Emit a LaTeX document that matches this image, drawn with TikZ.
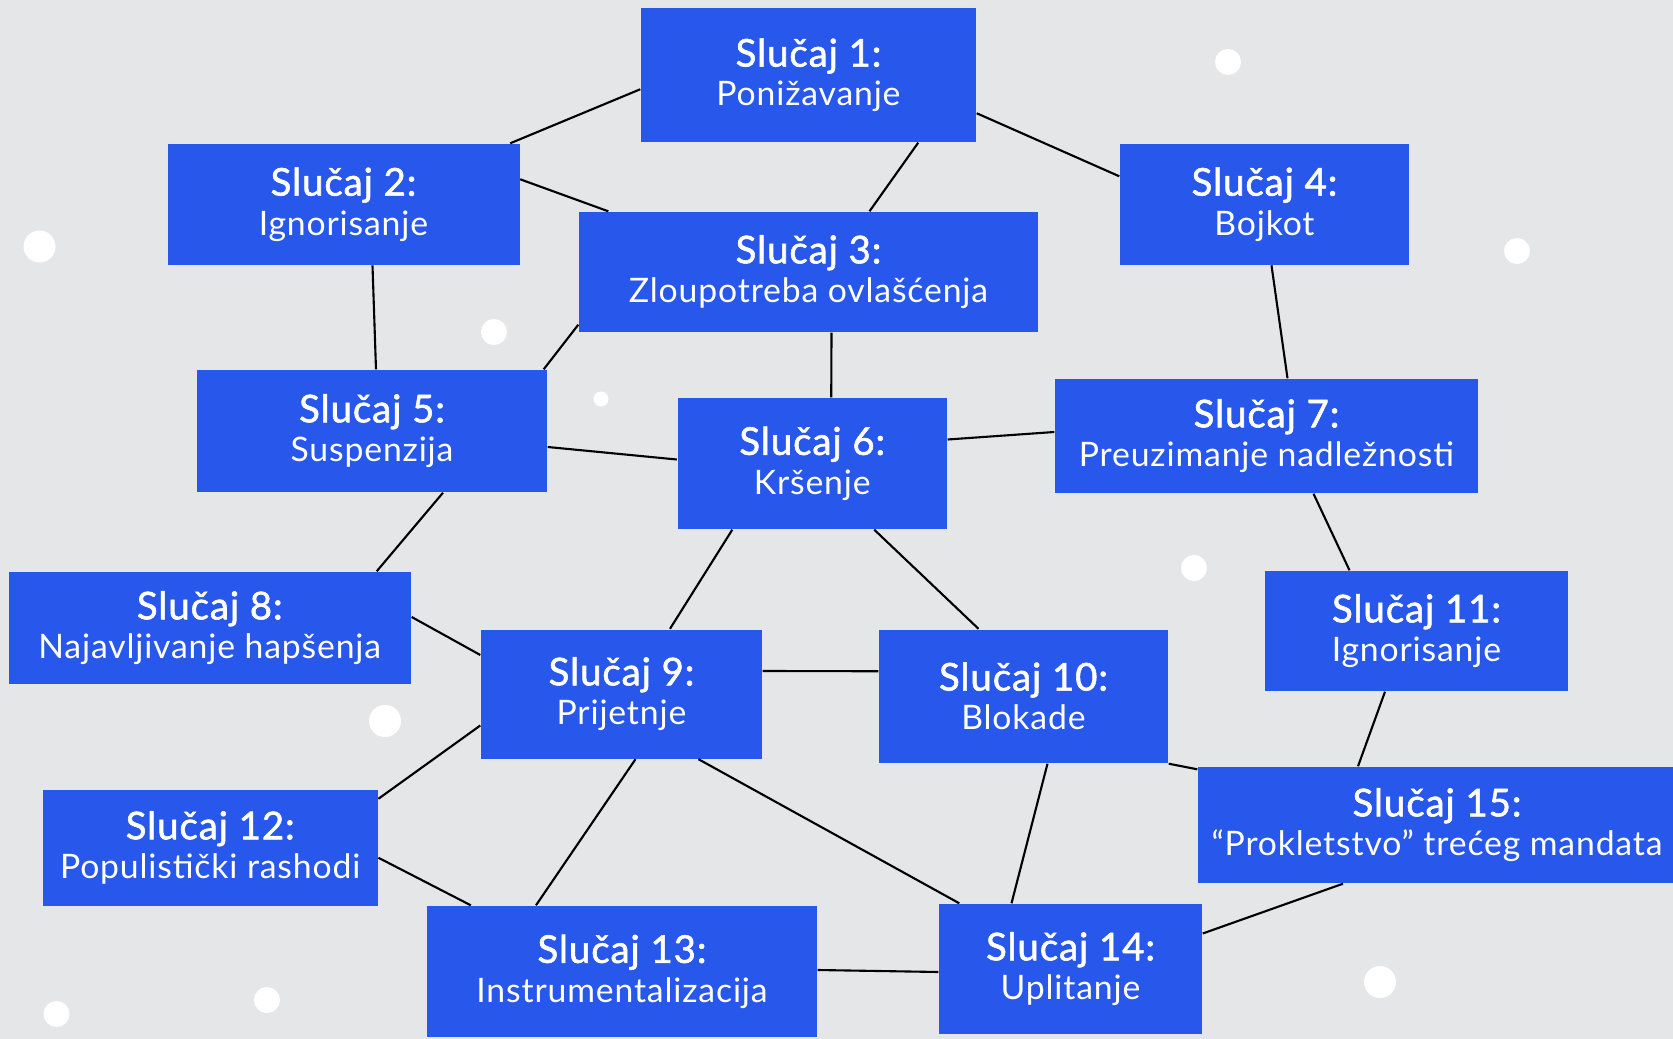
\documentclass[tikz,border=0pt]{standalone}
\usepackage{fontspec}
\setmainfont{Lato}[LetterSpace=2.5]
\newfontfamily\titlefont{Lato}[FakeBold=1.5, LetterSpace=2.5]
\usetikzlibrary{calc}
\definecolor{caseblue}{HTML}{2757EB}
\definecolor{paper}{HTML}{E5E6E8}
\newcommand{\ttl}[1]{{\titlefont\fontsize{10.9}{11.2}\selectfont #1}}

\begin{document}
\begin{tikzpicture}[
  every node/.append style={align=center},
  case/.style={fill=caseblue, text=white, inner sep=0pt,
    font=\fontsize{9.6}{11.2}\selectfont},
  link/.style={draw=black, line width=0.6pt},
  dot/.style={fill=white, draw=none}]
 \clip (0,0) rectangle (16.73,-10.39);
 \fill[paper] (0,0) rectangle (16.73,-10.39);
 % background dots
 \foreach \x/\y/\r in {12.28/0.62/0.13, 0.395/2.465/0.16, 15.17/2.51/0.13,
   4.94/3.32/0.13, 6.01/3.99/0.075, 11.94/5.68/0.13, 3.85/7.21/0.16,
   13.80/9.82/0.16, 2.67/10.00/0.13, 0.565/10.14/0.13}
   \fill[dot] (\x,-\y) circle (\r);
 % cases
 \node[case, minimum width=3.35cm, minimum height=1.335cm] (c1) at (8.085,-0.7525) {\ttl{Slučaj 1:}\\Ponižavanje};
 \node[case, minimum width=3.52cm, minimum height=1.206cm] (c2) at (3.435,-2.043) {\ttl{Slučaj 2:}\\Ignorisanje};
 \node[case, minimum width=4.59cm, minimum height=1.20cm] (c3) at (8.085,-2.72) {\ttl{Slučaj 3:}\\Zloupotreba ovlašćenja};
 \node[case, minimum width=2.89cm, minimum height=1.206cm] (c4) at (12.645,-2.043) {\ttl{Slučaj 4:}\\Bojkot};
 \node[case, minimum width=3.50cm, minimum height=1.22cm] (c5) at (3.72,-4.31) {\ttl{Slučaj 5:}\\Suspenzija};
 \node[case, minimum width=2.695cm, minimum height=1.31cm] (c6) at (8.1225,-4.635) {\ttl{Slučaj 6:}\\Kršenje};
 \node[case, minimum width=4.23cm, minimum height=1.14cm] (c7) at (12.665,-4.36) {\ttl{Slučaj 7:}\\Preuzimanje nadležnosti};
 \node[case, minimum width=4.025cm, minimum height=1.12cm] (c8) at (2.0975,-6.28) {\ttl{Slučaj 8:}\\Najavljivanje hapšenja};
 \node[case, minimum width=2.81cm, minimum height=1.29cm] (c9) at (6.215,-6.94) {\ttl{Slučaj 9:}\\Prijetnje};
 \node[case, minimum width=2.89cm, minimum height=1.335cm] (c10) at (10.235,-6.9625) {\ttl{Slučaj 10:}\\Blokade};
 \node[case, minimum width=3.03cm, minimum height=1.20cm] (c11) at (14.165,-6.31) {\ttl{Slučaj 11:}\\Ignorisanje};
 \node[case, minimum width=3.35cm, minimum height=1.165cm] (c12) at (2.102,-8.4775) {\ttl{Slučaj 12:}\\Populistički rashodi};
 \node[case, minimum width=3.90cm, minimum height=1.31cm] (c13) at (6.22,-9.715) {\ttl{Slučaj 13:}\\Instrumentalizacija};
 \node[case, minimum width=2.63cm, minimum height=1.30cm] (c14) at (10.705,-9.69) {\ttl{Slučaj 14:}\\Uplitanje};
 \node[case, minimum width=4.78cm, minimum height=1.16cm] (c15) at (14.37,-8.25) {\ttl{Slučaj 15:}\\“Prokletstvo” trećeg mandata};
 % links
 \draw[link] ([yshift=-0.14cm]c1.west) -- ([xshift=-0.1cm]c2.north east);
 \draw[link] ([xshift=-0.585cm]c1.south east) -- ([xshift=0.61cm]c3.north);
 \draw[link] ([yshift=-0.38cm]c1.east) -- ([yshift=0.28cm]c4.west);
 \draw[link] ([yshift=0.25cm]c2.east) -- ([xshift=0.30cm]c3.north west);
 \draw[link] ([xshift=0.29cm]c2.south) -- ([xshift=0.04cm]c5.north);
 \draw[link] ([yshift=0.08cm]c3.south west) -- ([xshift=-0.04cm]c5.north east);
 \draw[link] ([xshift=0.23cm]c3.south) -- ([xshift=0.19cm]c6.north);
 \draw[link] ([xshift=0.07cm]c4.south) -- ([xshift=0.21cm]c7.north);
 \draw[link] ([yshift=-0.16cm]c5.east) -- ([yshift=0.04cm]c6.west);
 \draw[link] ([xshift=0.71cm]c5.south) -- ([xshift=-0.35cm]c8.north east);
 \draw[link] ([yshift=0.24cm]c6.east) -- ([yshift=0.04cm]c7.west);
 \draw[link] ([xshift=0.555cm]c6.south west) -- ([xshift=0.485cm]c9.north);
 \draw[link] ([xshift=0.62cm]c6.south) -- ([xshift=-0.45cm]c10.north);
 \draw[link] ([xshift=0.47cm]c7.south) -- ([xshift=-0.67cm]c11.north);
 \draw[link] ([yshift=0.11cm]c8.east) -- ([yshift=0.39cm]c9.west);
 \draw[link] ([yshift=0.23cm]c9.east) -- ([yshift=0.25cm]c10.west);
 \draw[link] ([yshift=-0.315cm]c9.west) -- ([yshift=-0.10cm]c12.north east);
 \draw[link] ([xshift=0.14cm]c9.south) -- ([xshift=-0.86cm]c13.north);
 \draw[link] ([xshift=0.77cm]c9.south) -- ([xshift=0.21cm]c14.north west);
 \draw[link] ([xshift=0.24cm]c10.south) -- ([xshift=-0.59cm]c14.north);
 \draw[link] (c10.south east) -- ([yshift=-0.03cm]c15.north west);
 \draw[link] ([xshift=-0.315cm]c11.south) -- ([xshift=-0.79cm]c15.north);
 \draw[link] ([yshift=-0.10cm]c12.east) -- ([xshift=0.445cm]c13.north west);
 \draw[link] ([yshift=0.015cm]c13.east) -- ([yshift=-0.03cm]c14.west);
 \draw[link] ([yshift=0.355cm]c14.east) -- ([xshift=-0.94cm]c15.south);
\end{tikzpicture}
\end{document}
